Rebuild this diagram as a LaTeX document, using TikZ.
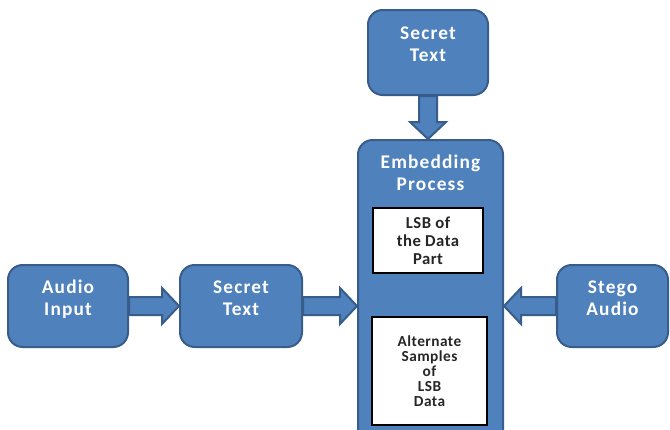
\documentclass[tikz,border=0pt]{standalone}
\usepackage{fontspec}
\setmainfont{Carlito}
\newfontfamily\boxfont[LetterSpace=6]{Carlito}
\newfontfamily\innerfont[LetterSpace=3]{Carlito}
\usetikzlibrary{calc}
\definecolor{boxblue}{HTML}{4F81BD}
\definecolor{boxedge}{HTML}{385D8A}

\begin{document}
\begin{tikzpicture}
  [x=0.75pt, y=-0.75pt,
   blue box/.style={draw=boxedge, fill=boxblue, line width=1.5pt, rounded corners=11pt, text=white, font=\boxfont\bfseries\fontsize{14.5}{16.5}\selectfont, align=center, inner sep=0, text depth=12pt},
   blue text/.style={text=white, font=\boxfont\bfseries\fontsize{14.5}{16.5}\selectfont, align=center, inner sep=0},
   white box/.style={draw=black, fill=white, line width=2pt, text=black!85, font=\innerfont\bfseries\fontsize{12.5}{13.5}\selectfont, align=center, inner sep=0},
   fat arrow/.style={draw=boxedge, fill=boxblue, line width=1.5pt, line join=miter,
     to path={let \p1=($(\tikztotarget)!12.75pt!(\tikztostart)$) in
       ($(\tikztostart)!6.75pt!90:(\tikztotarget)$) -- ($(\p1)!6.75pt!90:(\tikztotarget)$)
       -- ($(\p1)!13.5pt!90:(\tikztotarget)$) -- (\tikztotarget)
       -- ($(\p1)!13.5pt!-90:(\tikztotarget)$) -- ($(\p1)!6.75pt!-90:(\tikztotarget)$)
       -- ($(\tikztostart)!6.75pt!-90:(\tikztotarget)$) -- cycle}}]

  \useasboundingbox (0,0) rectangle (670,429);

  \node[blue box, minimum width=90pt, minimum height=63.75pt] (top) at (428,52.5) {Secret\\Text};
  \node[blue box, minimum width=90pt, minimum height=61.5pt] (audio) at (68,306) {Audio\\Input};
  \node[blue box, minimum width=91.5pt, minimum height=61.5pt] (secret) at (241,306) {Secret\\Text};
  \node[blue box, minimum width=83.25pt, minimum height=61.5pt] (stego) at (612.5,306) {Stego\\Audio};

  \node[blue box, minimum width=108.75pt, minimum height=228.75pt] (embed) at (430.5,292.5) {};
  \node[blue text, anchor=north] (embedtxt) at ($(embed.north)+(0,16)$) {Embedding\\Process};
  \node[white box, minimum width=82.5pt, minimum height=48.75pt] (lsb) at (428,240.5) {LSB of\\the Data\\Part};
  \node[white box, minimum width=86.25pt, minimum height=81pt, font=\innerfont\bfseries\fontsize{11.5}{11.2}\selectfont] (alt) at (429.5,371) {Alternate\\Samples\\of\\LSB\\Data};

  \draw[fat arrow] (top.south) to (top.south |- embed.north);
  \draw[fat arrow] (audio.east) to (secret.west);
  \draw[fat arrow] (secret.east) to (secret.east -| embed.west);
  \draw[fat arrow] (stego.west) to (stego.west -| embed.east);

\end{tikzpicture}
\end{document}
